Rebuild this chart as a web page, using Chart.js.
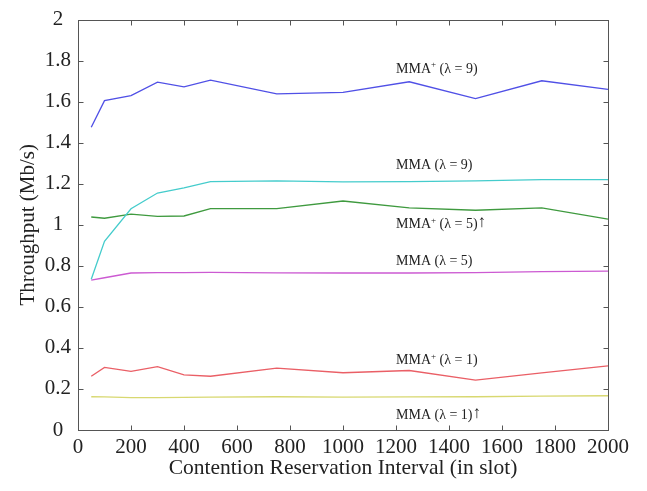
<!DOCTYPE html>
<html>
<head>
<meta charset="utf-8">
<title>Throughput vs contention reservation interval</title>
<script src="https://cdn.jsdelivr.net/npm/chart.js@4.4.0/dist/chart.umd.min.js"></script>
<style>
  html, body { margin: 0; padding: 0; background: #fff; }
</style>
</head>
<body>
<canvas id="throughput" width="647" height="491"></canvas>
<script>
const interval = [50, 100, 200, 300, 400, 500, 750, 1000, 1250, 1500, 1750, 2000];

const mmaPlus9 = [1.475, 1.605, 1.63, 1.695, 1.672, 1.705, 1.638, 1.645, 1.697, 1.615, 1.702, 1.66];
const mma9     = [0.735, 0.92, 1.078, 1.155, 1.18, 1.21, 1.214, 1.209, 1.21, 1.214, 1.22, 1.22];
const mmaPlus5 = [1.038, 1.032, 1.052, 1.041, 1.043, 1.079, 1.079, 1.116, 1.082, 1.071, 1.082, 1.028];
const mma5     = [0.73, 0.742, 0.765, 0.767, 0.767, 0.768, 0.766, 0.765, 0.765, 0.767, 0.772, 0.774];
const mmaPlus1 = [0.262, 0.305, 0.286, 0.309, 0.269, 0.262, 0.302, 0.279, 0.29, 0.243, 0.278, 0.313];
const mma1     = [0.162, 0.161, 0.158, 0.158, 0.159, 0.16, 0.162, 0.16, 0.161, 0.162, 0.165, 0.167];

const yTicks = [0, 0.2, 0.4, 0.6, 0.8, 1, 1.2, 1.4, 1.6, 1.8, 2];

// curve labels: [name, superscript, tail, x, y]
const notes = [
  ['MMA', '+', ' (λ = 9)', 1200, 1.76],
  ['MMA', '', ' (λ = 9)', 1200, 1.29],
  ['MMA', '+', ' (λ = 5)', 1200, 1.0, '↑'],
  ['MMA', '', ' (λ = 5)', 1200, 0.82],
  ['MMA', '+', ' (λ = 1)', 1200, 0.34],
  ['MMA', '', ' (λ = 1)', 1200, 0.07, '↑']
];

const serif = "'Liberation Serif', 'Times New Roman', 'DejaVu Serif', serif";
Chart.defaults.font.family = serif;
Chart.defaults.color = '#222';

function pts(ys) {
  return interval.map((x, i) => ({x: x, y: ys[i]}));
}

function line(data, color) {
  return {data: pts(data), borderColor: color, borderWidth: 1.3, pointRadius: 0, tension: 0, fill: false};
}

// box around the plot, inward tick marks and the curve labels
const frame = {
  id: 'frame',
  afterDatasetsDraw(chart) {
    const {ctx, chartArea: a, scales: {x, y}} = chart;
    ctx.save();
    ctx.strokeStyle = '#555';
    ctx.lineWidth = 1;
    const l = Math.round(a.left) + 0.5, r = Math.round(a.right) + 0.5;
    const t = Math.round(a.top) + 0.5, b = Math.round(a.bottom) + 0.5;
    ctx.strokeRect(l, t, r - l, b - t);
    ctx.beginPath();
    x.ticks.forEach(tk => {
      const px = Math.round(x.getPixelForValue(tk.value)) + 0.5;
      ctx.moveTo(px, b); ctx.lineTo(px, b - 5);
      ctx.moveTo(px, t); ctx.lineTo(px, t + 5);
    });
    y.ticks.forEach(tk => {
      const py = Math.round(y.getPixelForValue(tk.value)) + 0.5;
      ctx.moveTo(l, py); ctx.lineTo(l + 5, py);
      ctx.moveTo(r, py); ctx.lineTo(r - 5, py);
    });
    ctx.stroke();

    ctx.fillStyle = '#222';
    ctx.textBaseline = 'middle';
    notes.forEach(([name, sup, tail, vx, vy, arrow]) => {
      let px = x.getPixelForValue(vx);
      const py = y.getPixelForValue(vy);
      ctx.font = '14px ' + serif;
      ctx.fillText(name, px, py);
      px += ctx.measureText(name).width;
      if (sup) {
        ctx.font = '9px ' + serif;
        ctx.fillText(sup, px, py - 4);
        px += ctx.measureText(sup).width;
        ctx.font = '14px ' + serif;
      }
      ctx.fillText(tail, px, py);
      px += ctx.measureText(tail).width;
      if (arrow) {
        ctx.font = 'bold 17px ' + serif;
        ctx.fillText(arrow, px, py - 2);
      }
    });
    ctx.restore();
  }
};

new Chart(document.getElementById('throughput'), {
  type: 'line',
  data: {
    datasets: [
      line(mmaPlus9, '#5050e6'),
      line(mma9, '#45cccc'),
      line(mmaPlus5, '#3f9a3f'),
      line(mma5, '#cc5ad2'),
      line(mmaPlus1, '#ea5f66'),
      line(mma1, '#d8d870')
    ]
  },
  options: {
    responsive: false,
    animation: false,
    layout: {padding: {left: 0, top: 13, right: 39, bottom: 0}},
    plugins: {legend: {display: false}, tooltip: {enabled: false}},
    scales: {
      x: {
        type: 'linear',
        min: 0,
        max: 2000,
        grid: {display: false, drawTicks: false},
        border: {display: false},
        ticks: {stepSize: 200, autoSkip: false, maxRotation: 0, padding: 5, font: {size: 21}, color: '#222',
          callback: v => String(v)},
        title: {display: true, text: 'Contention Reservation Interval (in slot)', font: {size: 21.5}, color: '#222', padding: {top: 0, bottom: 10}},
        afterFit: s => { s.height = 61; }
      },
      y: {
        min: 0,
        max: 2,
        grid: {display: false, drawTicks: false},
        border: {display: false},
        afterBuildTicks: s => { s.ticks = yTicks.map(v => ({value: v})); },
        ticks: {
          crossAlign: 'center',
          padding: 7,
          font: {size: 21},
          color: '#222',
          callback: v => String(+v.toFixed(1))
        },
        title: {display: true, text: 'Throughput (Mb/s)', font: {size: 21}, color: '#222', padding: {top: 16, bottom: 0}},
        afterFit: s => { s.width = 78; }
      }
    }
  },
  plugins: [frame]
});
</script>
</body>
</html>
